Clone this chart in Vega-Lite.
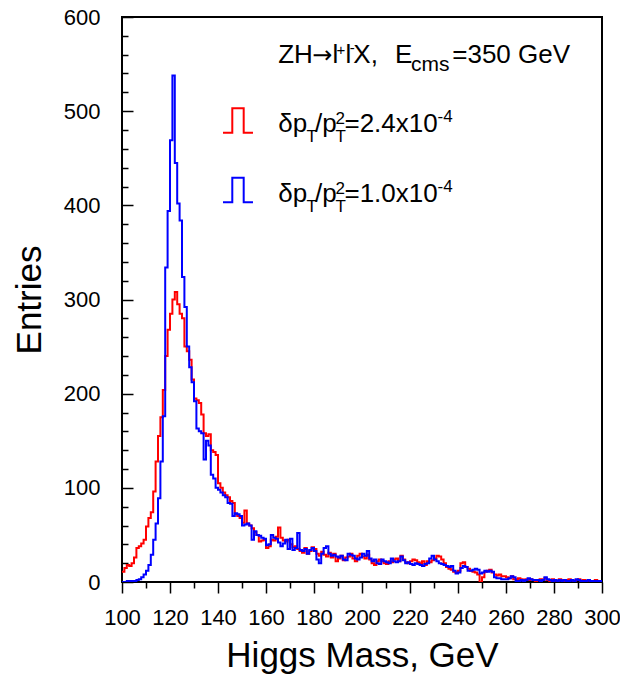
{
  "$schema": "https://vega.github.io/schema/vega-lite/v6.json",
  "width": 480,
  "height": 565,
  "autosize": {"type": "none"},
  "padding": {"left": 122, "top": 17, "right": 18, "bottom": 95},
  "background": "white",
  "config": {
    "font": "Liberation Sans",
    "view": {"stroke": "black", "strokeWidth": 2},
    "axis": {"domain": false, "grid": false, "tickColor": "black", "tickWidth": 1.5, "labelColor": "black", "titleColor": "black", "labelFont": "Liberation Sans", "titleFont": "Liberation Sans", "titleFontWeight": "normal", "labelFlush": false, "labelOverlap": false}
  },
  "data": {"values": [
    {"m":100,"r":11,"b":0},{"m":101,"r":15,"b":0},{"m":102,"r":18,"b":1},{"m":103,"r":17,"b":1},{"m":104,"r":20,"b":1},{"m":105,"r":26,"b":1},{"m":106,"r":36,"b":2},{"m":107,"r":38,"b":3},{"m":108,"r":41,"b":5},{"m":109,"r":45,"b":8},
    {"m":110,"r":59,"b":12},{"m":111,"r":68,"b":18},{"m":112,"r":74,"b":29},{"m":113,"r":96,"b":45},{"m":114,"r":128,"b":62},{"m":115,"r":155,"b":89},{"m":116,"r":175,"b":128},{"m":117,"r":204,"b":176},{"m":118,"r":240,"b":334},{"m":119,"r":268,"b":394},
    {"m":120,"r":285,"b":469},{"m":121,"r":300,"b":538},{"m":122,"r":308,"b":445},{"m":123,"r":295,"b":402},{"m":124,"r":285,"b":384},{"m":125,"r":280,"b":324},{"m":126,"r":250,"b":292},{"m":127,"r":245,"b":250},{"m":128,"r":236,"b":228},{"m":129,"r":215,"b":212},
    {"m":130,"r":195,"b":192},{"m":131,"r":193,"b":163},{"m":132,"r":190,"b":160},{"m":133,"r":178,"b":158},{"m":134,"r":158,"b":130},{"m":135,"r":155,"b":150},{"m":136,"r":157,"b":145},{"m":137,"r":140,"b":114},{"m":138,"r":138,"b":110},{"m":139,"r":135,"b":100},
    {"m":140,"r":105,"b":98},{"m":141,"r":100,"b":95},{"m":142,"r":95,"b":92},{"m":143,"r":92,"b":90},{"m":144,"r":90,"b":84},{"m":145,"r":86,"b":83},{"m":146,"r":84,"b":70},{"m":147,"r":72,"b":73},{"m":148,"r":70,"b":72},{"m":149,"r":68,"b":70},
    {"m":150,"r":63,"b":60},{"m":151,"r":76,"b":61},{"m":152,"r":62,"b":62},{"m":153,"r":60,"b":60},{"m":154,"r":57,"b":45},{"m":155,"r":53,"b":54},{"m":156,"r":50,"b":50},{"m":157,"r":43,"b":49},{"m":158,"r":44,"b":47},{"m":159,"r":45,"b":46},
    {"m":160,"r":36,"b":39},{"m":161,"r":38,"b":40},{"m":162,"r":45,"b":50},{"m":163,"r":44,"b":47},{"m":164,"r":48,"b":46},{"m":165,"r":58,"b":42},{"m":166,"r":47,"b":38},{"m":167,"r":44,"b":41},{"m":168,"r":43,"b":45},{"m":169,"r":45,"b":35},
    {"m":170,"r":40,"b":46},{"m":171,"r":37,"b":34},{"m":172,"r":38,"b":36},{"m":173,"r":35,"b":52},{"m":174,"r":33,"b":34},{"m":175,"r":31,"b":33},{"m":176,"r":36,"b":35},{"m":177,"r":30,"b":30},{"m":178,"r":33,"b":34},{"m":179,"r":37,"b":36},
    {"m":180,"r":35,"b":33},{"m":181,"r":30,"b":24},{"m":182,"r":28,"b":20},{"m":183,"r":32,"b":30},{"m":184,"r":29,"b":36},{"m":185,"r":27,"b":38},{"m":186,"r":31,"b":30},{"m":187,"r":26,"b":28},{"m":188,"r":30,"b":29},{"m":189,"r":22,"b":27},
    {"m":190,"r":25,"b":26},{"m":191,"r":28,"b":28},{"m":192,"r":23,"b":24},{"m":193,"r":26,"b":23},{"m":194,"r":27,"b":30},{"m":195,"r":30,"b":29},{"m":196,"r":25,"b":28},{"m":197,"r":22,"b":25},{"m":198,"r":28,"b":24},{"m":199,"r":30,"b":26},
    {"m":200,"r":27,"b":30},{"m":201,"r":25,"b":28},{"m":202,"r":29,"b":33},{"m":203,"r":24,"b":25},{"m":204,"r":20,"b":22},{"m":205,"r":18,"b":24},{"m":206,"r":22,"b":20},{"m":207,"r":24,"b":19},{"m":208,"r":22,"b":24},{"m":209,"r":20,"b":22},
    {"m":210,"r":19,"b":21},{"m":211,"r":22,"b":20},{"m":212,"r":21,"b":25},{"m":213,"r":24,"b":22},{"m":214,"r":25,"b":21},{"m":215,"r":22,"b":22},{"m":216,"r":28,"b":27},{"m":217,"r":24,"b":23},{"m":218,"r":21,"b":20},{"m":219,"r":20,"b":21},
    {"m":220,"r":22,"b":19},{"m":221,"r":24,"b":18},{"m":222,"r":23,"b":20},{"m":223,"r":21,"b":19},{"m":224,"r":20,"b":18},{"m":225,"r":22,"b":17},{"m":226,"r":18,"b":19},{"m":227,"r":22,"b":20},{"m":228,"r":21,"b":25},{"m":229,"r":23,"b":28},
    {"m":230,"r":25,"b":24},{"m":231,"r":28,"b":22},{"m":232,"r":27,"b":20},{"m":233,"r":24,"b":19},{"m":234,"r":20,"b":18},{"m":235,"r":16,"b":17},{"m":236,"r":14,"b":16},{"m":237,"r":13,"b":17},{"m":238,"r":11,"b":12},{"m":239,"r":10,"b":9},
    {"m":240,"r":12,"b":10},{"m":241,"r":20,"b":15},{"m":242,"r":21,"b":17},{"m":243,"r":16,"b":16},{"m":244,"r":14,"b":12},{"m":245,"r":12,"b":12},{"m":246,"r":11,"b":13},{"m":247,"r":10,"b":14},{"m":248,"r":8,"b":13},{"m":249,"r":0,"b":9},
    {"m":250,"r":5,"b":10},{"m":251,"r":11,"b":12},{"m":252,"r":12,"b":11},{"m":253,"r":13,"b":12},{"m":254,"r":10,"b":11},{"m":255,"r":8,"b":5},{"m":256,"r":7,"b":4},{"m":257,"r":8,"b":4},{"m":258,"r":6,"b":3},{"m":259,"r":6,"b":3},
    {"m":260,"r":5,"b":3},{"m":261,"r":4,"b":4},{"m":262,"r":6,"b":6},{"m":263,"r":3,"b":5},{"m":264,"r":3,"b":1},{"m":265,"r":4,"b":1},{"m":266,"r":3,"b":2},{"m":267,"r":2,"b":1},{"m":268,"r":3,"b":2},{"m":269,"r":2,"b":4},
    {"m":270,"r":3,"b":3},{"m":271,"r":2,"b":2},{"m":272,"r":1,"b":2},{"m":273,"r":2,"b":2},{"m":274,"r":3,"b":1},{"m":275,"r":2,"b":2},{"m":276,"r":4,"b":5},{"m":277,"r":2,"b":3},{"m":278,"r":1,"b":2},{"m":279,"r":3,"b":1},
    {"m":280,"r":2,"b":2},{"m":281,"r":1,"b":1},{"m":282,"r":3,"b":2},{"m":283,"r":2,"b":1},{"m":284,"r":1,"b":2},{"m":285,"r":2,"b":1},{"m":286,"r":3,"b":1},{"m":287,"r":2,"b":2},{"m":288,"r":1,"b":1},{"m":289,"r":2,"b":3},
    {"m":290,"r":3,"b":2},{"m":291,"r":1,"b":1},{"m":292,"r":2,"b":1},{"m":293,"r":1,"b":1},{"m":294,"r":2,"b":2},{"m":295,"r":1,"b":1},{"m":296,"r":1,"b":1},{"m":297,"r":2,"b":1},{"m":298,"r":1,"b":1},{"m":299,"r":1,"b":1},
    {"m":300,"r":1,"b":1}
  ]},
  "encoding": {
    "x": {"field": "m", "type": "quantitative", "scale": {"domain": [100, 300], "nice": false, "zero": false},
      "axis": {"title": "Higgs Mass, GeV", "values": [100,110,120,130,140,150,160,170,180,190,200,210,220,230,240,250,260,270,280,290,300],
        "labelExpr": "datum.value % 20 === 0 ? datum.label : ''",
        "tickSize": {"condition": {"test": "datum.value % 20 === 0", "value": 11}, "value": 6},
        "labelPadding": 14, "labelFontSize": 22, "titleFontSize": 35, "titlePadding": 10}},
    "y": {"field": "v", "type": "quantitative", "scale": {"domain": [0, 600], "nice": false},
      "axis": {"title": "Entries", "values": [0,20,40,60,80,100,120,140,160,180,200,220,240,260,280,300,320,340,360,380,400,420,440,460,480,500,520,540,560,580,600],
        "labelExpr": "datum.value % 100 === 0 ? datum.label : ''",
        "tickSize": {"condition": {"test": "datum.value % 100 === 0", "value": -11}, "value": -6},
        "labelPadding": 33, "labelFontSize": 22, "titleFontSize": 35, "titlePadding": 16}}
  },
  "layer": [
    {
      "transform": [{"fold": ["r", "b"], "as": ["s", "v"]}],
      "mark": {"type": "line", "interpolate": "step-after", "strokeWidth": 2, "clip": true},
      "encoding": {
        "color": {"field": "s", "type": "nominal", "scale": {"domain": ["r", "b"], "range": ["#ff0000", "#0000ff"]}, "legend": null}
      }
    },
    {
      "data": {"values": [
        {"m": 148.33, "v": 490.1, "s": "r"},
        {"m": 148.33, "v": 416.3, "s": "b"}
      ]},
      "mark": {"type": "point", "shape": "M-1,0.82H-0.38V-0.82H0.38V0.82H1", "size": 900, "filled": false, "strokeWidth": 2, "opacity": 1},
      "encoding": {
        "color": {"field": "s", "type": "nominal", "scale": {"domain": ["r", "b"], "range": ["#ff0000", "#0000ff"]}, "legend": null}
      }
    },
    {
      "data": {"values": [
        {"m": 165.1, "v": 551.1, "t": "ZH"},
        {"m": 187.7, "v": 551.1, "t": "l"},
        {"m": 193.1, "v": 551.1, "t": "l"},
        {"m": 196.4, "v": 551.1, "t": "X,"},
        {"m": 213.75, "v": 551.1, "t": "E"},
        {"m": 237.6, "v": 551.1, "t": "=350 GeV"},
        {"m": 165.1, "v": 477.9, "t": "δp"},
        {"m": 180.4, "v": 477.9, "t": "/p"},
        {"m": 192.7, "v": 477.9, "t": "=2.4x10"},
        {"m": 165.1, "v": 403.8, "t": "δp"},
        {"m": 180.4, "v": 403.8, "t": "/p"},
        {"m": 192.7, "v": 403.8, "t": "=1.0x10"}
      ]},
      "mark": {"type": "text", "align": "left", "baseline": "alphabetic", "fontSize": 26, "color": "black", "font": "Liberation Sans"},
      "encoding": {"text": {"field": "t"}}
    },
    {
      "data": {"values": [
        {"m": 183.5, "v": 551.1, "t": "→"}
      ]},
      "mark": {"type": "text", "align": "center", "baseline": "alphabetic", "fontSize": 24, "color": "black", "font": "DejaVu Sans"},
      "encoding": {"text": {"field": "t"}}
    },
    {
      "data": {"values": [
        {"m": 189.4, "v": 559.7, "t": "+"},
        {"m": 194.9, "v": 562.0, "t": "-"}
      ]},
      "mark": {"type": "text", "align": "left", "baseline": "alphabetic", "fontSize": 15, "color": "black", "font": "Liberation Sans"},
      "encoding": {"text": {"field": "t"}}
    },
    {
      "data": {"values": [
        {"m": 220.4, "v": 543.0, "t": "cms"}
      ]},
      "mark": {"type": "text", "align": "left", "baseline": "alphabetic", "fontSize": 21, "color": "black", "font": "Liberation Sans"},
      "encoding": {"text": {"field": "t"}}
    },
    {
      "data": {"values": [
        {"m": 176.9, "v": 467.6, "t": "T"},
        {"m": 189.0, "v": 467.6, "t": "T"},
        {"m": 189.0, "v": 486.4, "t": "2"},
        {"m": 231.5, "v": 488.5, "t": "-4"},
        {"m": 176.9, "v": 393.3, "t": "T"},
        {"m": 189.0, "v": 393.3, "t": "T"},
        {"m": 189.0, "v": 412.1, "t": "2"},
        {"m": 231.5, "v": 414.2, "t": "-4"}
      ]},
      "mark": {"type": "text", "align": "left", "baseline": "alphabetic", "fontSize": 17, "color": "black", "font": "Liberation Sans"},
      "encoding": {"text": {"field": "t"}}
    }
  ]
}
